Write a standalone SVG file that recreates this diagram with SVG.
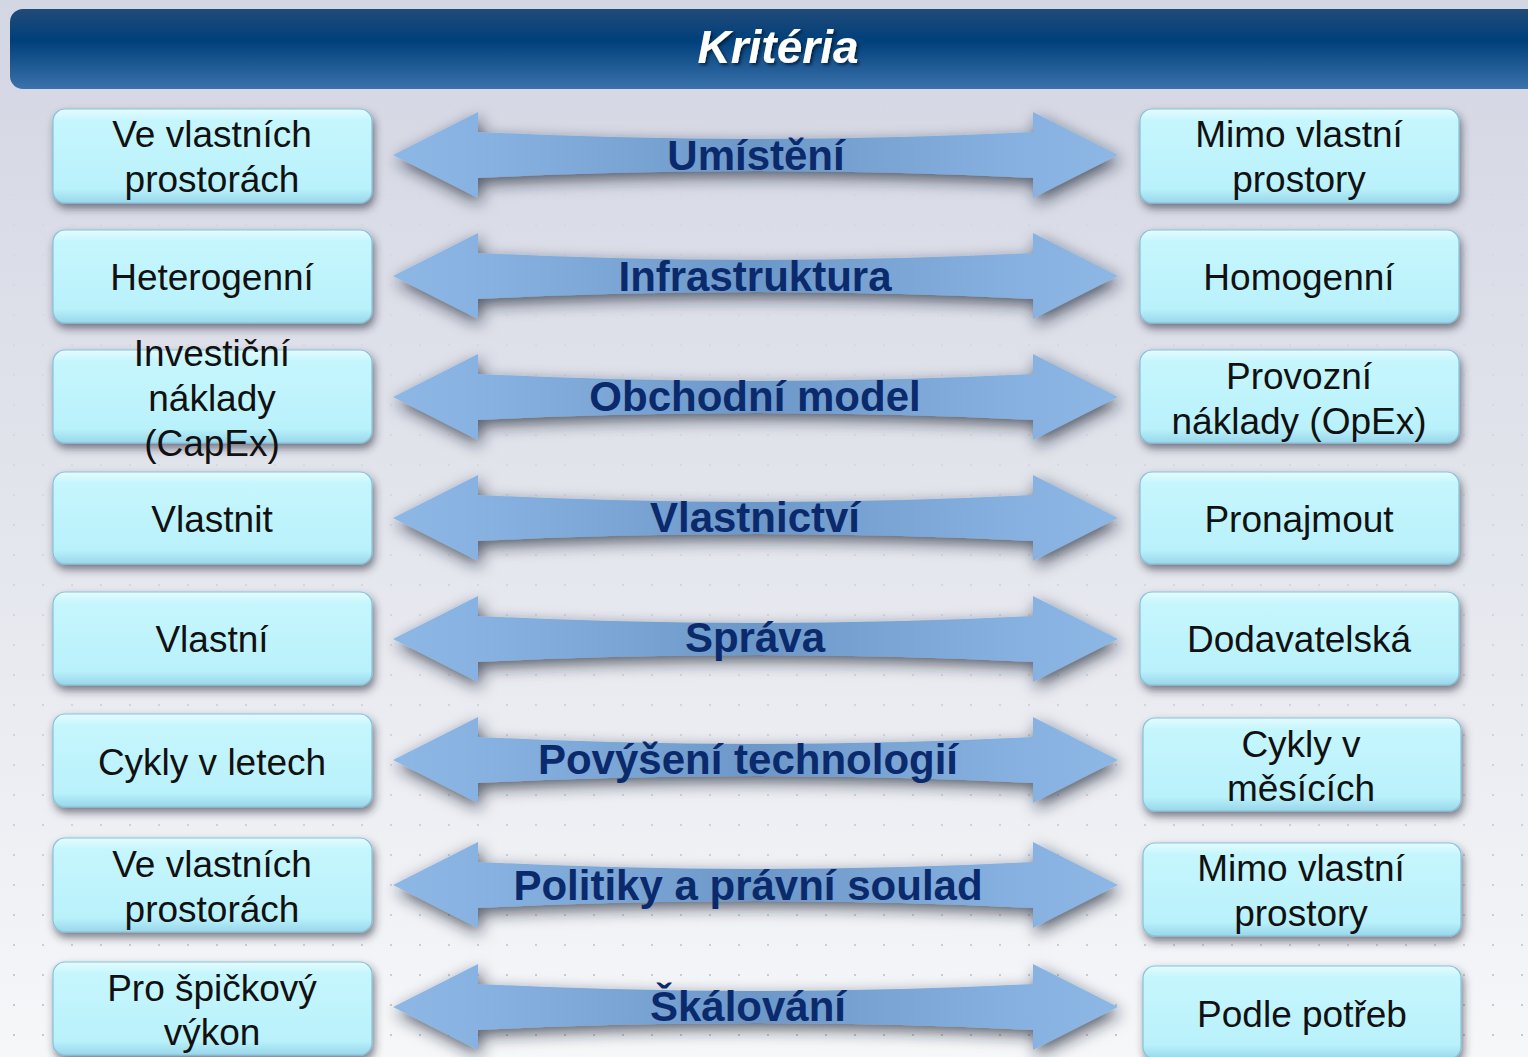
<svg xmlns="http://www.w3.org/2000/svg" xmlns:xlink="http://www.w3.org/1999/xlink" width="1528" height="1057" viewBox="0 0 1528 1057">
<defs>
<linearGradient id="bg" x1="0" y1="0" x2="0" y2="1">
<stop offset="0" stop-color="#d3d6e3"/>
<stop offset="0.45" stop-color="#e2e4ec"/>
<stop offset="1" stop-color="#f6f7f9"/>
</linearGradient>
<pattern id="dots" x="0" y="0" width="29" height="30" patternUnits="userSpaceOnUse">
<rect x="13" y="14" width="2" height="2" fill="#c4c7d2"/>
</pattern>
<linearGradient id="dotfade" x1="0" y1="0" x2="0" y2="1">
<stop offset="0" stop-color="#fff" stop-opacity="0"/>
<stop offset="0.35" stop-color="#fff" stop-opacity="0.3"/>
<stop offset="1" stop-color="#fff" stop-opacity="1"/>
</linearGradient>
<mask id="dotmask"><rect width="1528" height="1057" fill="url(#dotfade)"/></mask>
<linearGradient id="hdr" x1="0" y1="0" x2="0" y2="1">
<stop offset="0" stop-color="#214a78"/>
<stop offset="0.4" stop-color="#00407b"/>
<stop offset="1" stop-color="#3b72ab"/>
</linearGradient>
<linearGradient id="box" x1="0" y1="0" x2="0" y2="1">
<stop offset="0" stop-color="#e4fcff"/>
<stop offset="0.12" stop-color="#c6f6fd"/>
<stop offset="0.85" stop-color="#b9f1fb"/>
<stop offset="1" stop-color="#98d6ea"/>
</linearGradient>
<linearGradient id="arr" x1="393" y1="0" x2="1118" y2="0" gradientUnits="userSpaceOnUse">
<stop offset="0" stop-color="#8db7e5"/>
<stop offset="0.15" stop-color="#86b0df"/>
<stop offset="0.5" stop-color="#6c98c9"/>
<stop offset="0.85" stop-color="#86b0df"/>
<stop offset="1" stop-color="#8db7e5"/>
</linearGradient>
<filter id="shBox" x="-10%" y="-20%" width="125%" height="160%">
<feDropShadow dx="2" dy="5" stdDeviation="4" flood-color="#2a2e3a" flood-opacity="0.6"/>
</filter>
<filter id="shArr" x="-10%" y="-50%" width="120%" height="200%">
<feDropShadow dx="3" dy="6" stdDeviation="8" flood-color="#1c2030" flood-opacity="0.7"/>
</filter>
<filter id="shTxt" x="-10%" y="-30%" width="120%" height="160%">
<feDropShadow dx="2" dy="2" stdDeviation="1.5" flood-color="#001830" flood-opacity="0.8"/>
</filter>
<path id="arrow" d="M393,0 L478,-43 L478,-23 Q755,-9 1033,-23 L1033,-43 L1118,0 L1033,43 L1033,23 Q755,9 478,23 L478,43 Z"/>
<style>
.box{fill:url(#box);stroke:#86c2d8;stroke-width:1.2;filter:url(#shBox)}
.bt{font-family:"Liberation Sans",Arial,sans-serif;font-size:37px;fill:#111;text-anchor:middle}
.al{font-family:"Liberation Sans",Arial,sans-serif;font-size:42px;font-weight:bold;fill:#0b2a6c;text-anchor:middle}
.ar{fill:url(#arr);filter:url(#shArr)}
</style>
</defs>

<rect width="1528" height="1057" fill="url(#bg)"/>
<rect width="1528" height="1057" fill="url(#dots)" mask="url(#dotmask)"/>

<g id="header">
<rect x="10" y="9" width="1530" height="80" rx="13" fill="url(#hdr)"/>
<text x="778" y="63" font-family="Liberation Sans,Arial,sans-serif" font-size="46" font-weight="bold" font-style="italic" fill="#ffffff" text-anchor="middle" filter="url(#shTxt)">Kritéria</text>
</g>

<g id="connectors">
<g id="c1" transform="translate(0,155)"><use xlink:href="#arrow" class="ar"/><text class="al" x="756" y="15">Umístění</text></g>
<g id="c2" transform="translate(0,276)"><use xlink:href="#arrow" class="ar"/><text class="al" x="755" y="15">Infrastruktura</text></g>
<g id="c3" transform="translate(0,397)"><use xlink:href="#arrow" class="ar"/><text class="al" x="755" y="14">Obchodní model</text></g>
<g id="c4" transform="translate(0,518)"><use xlink:href="#arrow" class="ar"/><text class="al" x="755" y="14">Vlastnictví</text></g>
<g id="c5" transform="translate(0,639)"><use xlink:href="#arrow" class="ar"/><text class="al" x="755" y="13">Správa</text></g>
<g id="c6" transform="translate(0,760)"><use xlink:href="#arrow" class="ar"/><text class="al" x="748" y="14">Povýšení technologií</text></g>
<g id="c7" transform="translate(0,885)"><use xlink:href="#arrow" class="ar"/><text class="al" x="748" y="15">Politiky a právní soulad</text></g>
<g id="c8" transform="translate(0,1007)"><use xlink:href="#arrow" class="ar"/><text class="al" x="748" y="14">Škálování</text></g>
</g>

<g id="left-nodes">
<g id="l1"><rect class="box" x="53" y="109" width="319" height="94" rx="12"/><text class="bt" x="212" y="147">Ve vlastních</text><text class="bt" x="212" y="192">prostorách</text></g>
<g id="l2"><rect class="box" x="53" y="230" width="319" height="93" rx="12"/><text class="bt" x="212" y="290">Heterogenní</text></g>
<g id="l3"><rect class="box" x="53" y="350" width="319" height="93" rx="12"/><text class="bt" x="212" y="366">Investiční</text><text class="bt" x="212" y="411">náklady</text><text class="bt" x="212" y="456">(CapEx)</text></g>
<g id="l4"><rect class="box" x="53" y="472" width="319" height="92" rx="12"/><text class="bt" x="212" y="532">Vlastnit</text></g>
<g id="l5"><rect class="box" x="53" y="592" width="319" height="93" rx="12"/><text class="bt" x="212" y="652">Vlastní</text></g>
<g id="l6"><rect class="box" x="53" y="714" width="319" height="93" rx="12"/><text class="bt" x="212" y="775">Cykly v letech</text></g>
<g id="l7"><rect class="box" x="53" y="838" width="319" height="94" rx="12"/><text class="bt" x="212" y="877">Ve vlastních</text><text class="bt" x="212" y="922">prostorách</text></g>
<g id="l8"><rect class="box" x="53" y="962" width="319" height="93" rx="12"/><text class="bt" x="212" y="1001">Pro špičkový</text><text class="bt" x="212" y="1045">výkon</text></g>
</g>

<g id="right-nodes">
<g id="r1"><rect class="box" x="1140" y="109" width="319" height="94" rx="12"/><text class="bt" x="1299" y="147">Mimo vlastní</text><text class="bt" x="1299" y="192">prostory</text></g>
<g id="r2"><rect class="box" x="1140" y="230" width="319" height="93" rx="12"/><text class="bt" x="1299" y="290">Homogenní</text></g>
<g id="r3"><rect class="box" x="1140" y="350" width="319" height="93" rx="12"/><text class="bt" x="1299" y="389">Provozní</text><text class="bt" x="1299" y="434">náklady (OpEx)</text></g>
<g id="r4"><rect class="box" x="1140" y="472" width="319" height="92" rx="12"/><text class="bt" x="1299" y="532">Pronajmout</text></g>
<g id="r5"><rect class="box" x="1140" y="592" width="319" height="93" rx="12"/><text class="bt" x="1299" y="652">Dodavatelská</text></g>
<g id="r6"><rect class="box" x="1143" y="718" width="318" height="93" rx="12"/><text class="bt" x="1301" y="757">Cykly v</text><text class="bt" x="1301" y="801">měsících</text></g>
<g id="r7"><rect class="box" x="1143" y="843" width="318" height="93" rx="12"/><text class="bt" x="1301" y="881">Mimo vlastní</text><text class="bt" x="1301" y="926">prostory</text></g>
<g id="r8"><rect class="box" x="1143" y="966" width="318" height="93" rx="12"/><text class="bt" x="1302" y="1027">Podle potřeb</text></g>
</g>
</svg>
